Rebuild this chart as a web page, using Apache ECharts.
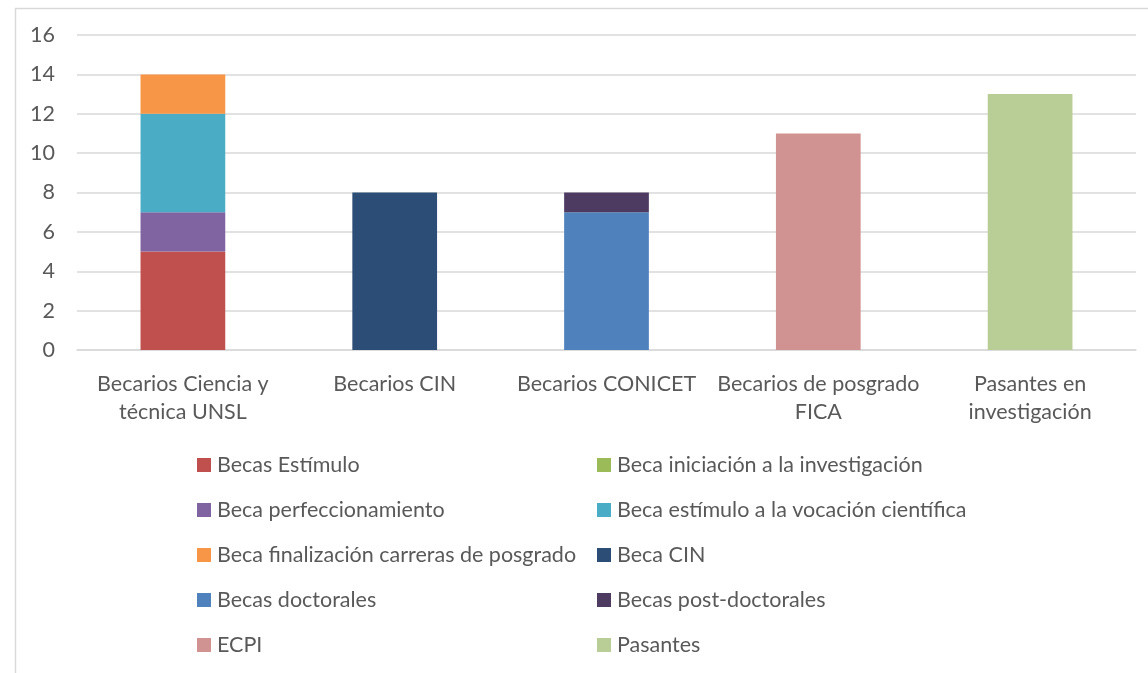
<!DOCTYPE html>
<html>
<head>
<meta charset="utf-8">
<script src="https://cdn.jsdelivr.net/npm/echarts@6/dist/echarts.min.js"></script>
<style>
  html, body { margin: 0; padding: 0; background: #fff; }
  #chart { width: 1148px; height: 673px; }
</style>
</head>
<body>
<div id="chart"></div>
<script>
// Categories on the x axis
const categories = [
  'Becarios Ciencia y\ntécnica UNSL',
  'Becarios CIN',
  'Becarios CONICET',
  'Becarios de posgrado\nFICA',
  'Pasantes en\ninvestigación'
];

// Y-axis tick values
const yTicks = { min: 0, max: 16, interval: 2 };

// Series names (legend order) and stacked values per category
const seriesNames = [
  'Becas Estímulo',
  'Beca iniciación a la investigación',
  'Beca perfeccionamiento',
  'Beca estímulo a la vocación científica',
  'Beca finalización carreras de posgrado',
  'Beca CIN',
  'Becas doctorales',
  'Becas post-doctorales',
  'ECPI',
  'Pasantes'
];
const becasEstimulo      = [5, null, null, null, null];
const becaIniciacion     = [null, null, null, null, null];
const becaPerfecc        = [2, null, null, null, null];
const becaVocacion       = [5, null, null, null, null];
const becaFinalizacion   = [2, null, null, null, null];
const becaCIN            = [null, 8, null, null, null];
const becasDoctorales    = [null, null, 7, null, null];
const becasPostdoc       = [null, null, 1, null, null];
const ecpi               = [null, null, null, 11, null];
const pasantes           = [null, null, null, null, 13];

const seriesValues = [
  becasEstimulo, becaIniciacion, becaPerfecc, becaVocacion, becaFinalizacion,
  becaCIN, becasDoctorales, becasPostdoc, ecpi, pasantes
];

const colors = [
  '#c0504d', '#9bbb59', '#8064a2', '#4bacc6', '#f79646',
  '#2c4d75', '#4f81bd', '#4d3b62', '#d19392', '#b9cd96'
];

const fontFamily = 'Lato, "Open Sans", sans-serif';
const textColor = '#595959';
const fontSize = 21.5;

const chart = echarts.init(document.getElementById('chart'), null, { renderer: 'canvas' });

const legendCommon = {
  orient: 'vertical',
  top: 454,
  padding: 0,
  itemWidth: 14,
  itemHeight: 14,
  itemGap: 23,
  icon: 'rect',
  selectedMode: false,
  textStyle: { fontFamily, fontSize, color: textColor, lineHeight: 22, padding: [0, 0, 0, 1] }
};

chart.setOption({
  animation: false,
  color: colors,
  graphic: [{
    type: 'rect',
    left: 13, top: 6,
    shape: { width: 1200, height: 700 },
    style: { fill: 'none', stroke: '#d9d9d9', lineWidth: 1.5 },
    silent: true
  }],
  grid: { left: 77, right: 12, top: 35, bottom: 323, containLabel: false },
  legend: [
    Object.assign({}, legendCommon, { left: 197, data: seriesNames.filter((_, i) => i % 2 === 0) }),
    Object.assign({}, legendCommon, { left: 597, data: seriesNames.filter((_, i) => i % 2 === 1) })
  ],
  xAxis: {
    type: 'category',
    data: categories,
    axisTick: { show: false },
    axisLine: { show: true, lineStyle: { color: '#d9d9d9', width: 1.5 } },
    axisLabel: {
      interval: 0,
      margin: 20,
      fontFamily, fontSize, color: textColor, lineHeight: 28
    }
  },
  yAxis: {
    type: 'value',
    min: yTicks.min, max: yTicks.max, interval: yTicks.interval,
    axisLine: { show: false },
    axisTick: { show: false },
    splitLine: { lineStyle: { color: '#d9d9d9', width: 1.5 } },
    axisLabel: { margin: 22, fontFamily, fontSize, color: textColor }
  },
  series: seriesNames.map((name, i) => ({
    name,
    type: 'bar',
    stack: 'total',
    barWidth: '40%',
    data: seriesValues[i],
    itemStyle: { color: colors[i] }
  }))
});
</script>
</body>
</html>
